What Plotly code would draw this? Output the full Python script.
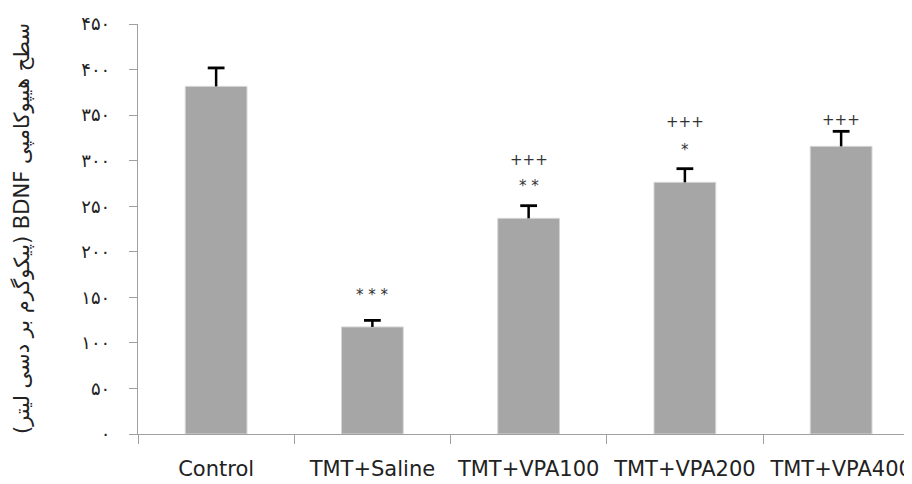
import plotly.graph_objects as go

categories = ["Control", "TMT+Saline", "TMT+VPA100", "TMT+VPA200", "TMT+VPA400"]
means = [381.5, 117.5, 236.7, 276.2, 315.7]
errors = [20.3, 7.2, 13.9, 15.0, 16.5]

# significance marks: (category, y position in data units, text)
mark_cats = ["TMT+Saline", "TMT+VPA100", "TMT+VPA100", "TMT+VPA200", "TMT+VPA200", "TMT+VPA400"]
mark_y = [153, 272.7, 301, 312, 342, 345]
mark_text = ["* * *", "* *", "+++", "*", "+++", "+++"]

tick_vals = [0, 50, 100, 150, 200, 250, 300, 350, 400, 450]
tick_text = ["۰", "۵۰", "۱۰۰", "۱۵۰", "۲۰۰", "۲۵۰", "۳۰۰", "۳۵۰", "۴۰۰", "۴۵۰"]

y_title = "سطح هیپوکامپی BDNF (پیکوگرم بر دسی لیتر)"

# page has an 8px body margin, so the figure is laid out 8px smaller
W, H = 904, 476
L, R, T, B = 130, 0, 16, 50
cat_px = 156.25
plot_w = W - L - R

fig = go.Figure()
fig.add_trace(go.Bar(
    x=categories, y=means,
    width=0.395,
    marker=dict(color="#a6a6a6", line=dict(color="#d4d4d4", width=1)),
    error_y=dict(type="data", array=errors, symmetric=False, arrayminus=[0]*len(errors),
                 color="black", thickness=2.5, width=0),
    showlegend=False, hoverinfo="skip",
))
# caps on top of the error bars
fig.add_trace(go.Scatter(
    x=categories, y=[m + e for m, e in zip(means, errors)],
    mode="markers",
    marker=dict(symbol="line-ew-open", size=12, color="black",
                line=dict(color="black", width=2.8)),
    showlegend=False, hoverinfo="skip",
))

for c, yv, t in zip(mark_cats, mark_y, mark_text):
    fig.add_annotation(x=c, y=yv, text=t, showarrow=False,
                       font=dict(family="DejaVu Sans", size=15, color="#333333"),
                       xanchor="center", yanchor="middle")

fig.add_annotation(xref="paper", yref="paper", x=0, y=0.5, xshift=-116,
                   text="\u202B" + y_title + "\u202C", textangle=-90, showarrow=False,
                   font=dict(family="DejaVu Sans", size=21, color="#222222"),
                   xanchor="center", yanchor="middle")

fig.update_layout(
    width=W, height=H,
    margin=dict(l=L, r=R, t=T, b=B, pad=0),
    plot_bgcolor="white", paper_bgcolor="white",
    xaxis=dict(
        type="category",
        range=[-0.5, -0.5 + plot_w / cat_px],
        showline=True, linecolor="#a0a0a0", linewidth=1.2,
        ticks="outside", tickson="boundaries", ticklen=9, tickcolor="#a0a0a0", tickwidth=1.2,
        tickfont=dict(family="DejaVu Sans", size=21, color="#222222"),
        ticklabelstandoff=16,
        showgrid=False, zeroline=False,
    ),
    yaxis=dict(
        range=[0, 450],
        tickvals=tick_vals, ticktext=tick_text,
        showline=True, linecolor="#a0a0a0", linewidth=1.2,
        ticks="outside", ticklen=8, tickcolor="#a0a0a0", tickwidth=1.2,
        tickfont=dict(family="DejaVu Sans", size=18, color="#222222"),
        ticklabelstandoff=15,
        showgrid=False, zeroline=False,
    ),
)

fig.write_html("out.html")
